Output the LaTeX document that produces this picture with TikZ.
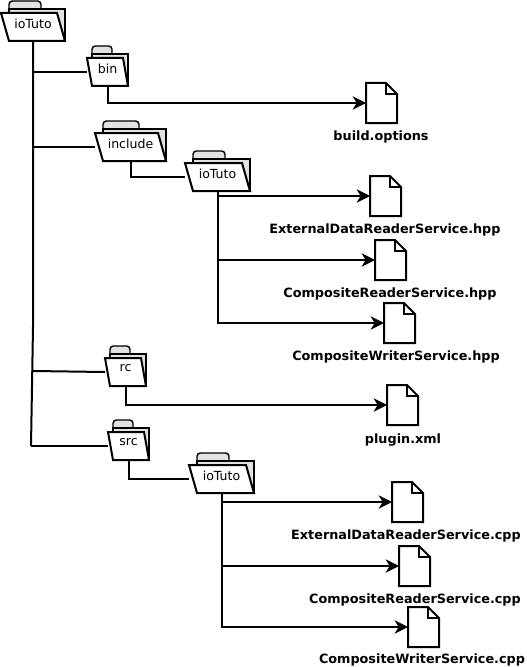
\documentclass[tikz,border=0pt]{standalone}
\usepackage{fontspec}
\setmainfont{DejaVu Sans}
\usetikzlibrary{arrows.meta}
\definecolor{foldergrey}{HTML}{E2E2E2}
\tikzset{
  wire/.style={line width=1.5pt,line join=miter},
  arrowwire/.style={wire,-{Stealth[length=10pt,width=10pt,inset=3pt]}},
  outline/.style={draw=black,line width=1.5pt,line join=miter},
  thinline/.style={draw=black,line width=1.1pt,line join=miter},
  folderanchor/.style={inner sep=0pt,outer sep=0pt,font=\fontsize{9.4pt}{10pt}\selectfont},
  fileanchor/.style={inner sep=0pt,outer sep=0pt,minimum width=23.25pt,minimum height=30pt},
  filelabel/.style={inner sep=0pt,font=\fontsize{9.6pt}{10pt}\selectfont\bfseries},
}
% name, front-left x, front-top y, width, slant, tab width, label
\newcommand{\folderbox}[7]{%
  \begin{scope}[shift={(#2,#3)}]
    \draw[thinline,fill=foldergrey,rounded corners=2.5pt] (#5,-4) -- (#5,-12) -- ({#5+#6},-12) -- ({#5+#6},-4);
    \draw[thinline,fill=foldergrey] (#5,-4) -- (#4,-4) -- (#4,28) -- (#5,28) -- cycle;
    \draw[outline,fill=white] (0,0) -- ({#4-#5},0) -- (#4,28) -- (#5,28) -- cycle;
  \end{scope}
  \node[folderanchor,minimum width={(#4)*0.75pt},minimum height=21pt] (#1) at ({#2+#4/2},{#3+14}) {\raisebox{5.5pt}{#7}};
}
% name, x, y, label, label x, label y
\newcommand{\filebox}[6]{%
  \draw[outline,fill=white] (#2,#3) -- ({#2+20},#3) -- ({#2+31},{#3+11}) -- ({#2+31},{#3+40}) -- (#2,{#3+40}) -- cycle;
  \draw[outline] ({#2+20},#3) -- ({#2+20},{#3+11}) -- ({#2+31},{#3+11});
  \node[fileanchor] (#1) at ({#2+15.5},{#3+20}) {};
  \node[filelabel] (#1-label) at (#5,#6) {#4};
}
\begin{document}
\begin{tikzpicture}[x=0.75pt,y=-0.75pt]
\useasboundingbox (0,0) rectangle (527,667);
% folders
\folderbox{root}{1}{13}{64}{8}{32}{ioTuto}
\folderbox{bin}{87}{58}{41}{5}{20}{bin}
\folderbox{include}{95}{133}{71}{8}{36}{include}
\folderbox{incsub}{185}{163}{65}{8}{32}{ioTuto}
\folderbox{rc}{105}{358}{41}{5}{20}{rc}
\folderbox{src}{108}{432}{41}{5}{20}{src}
\folderbox{srcsub}{189}{465}{65}{8}{32}{ioTuto}
% files
\filebox{options}{366}{83}{build.options}{381}{137}
\filebox{exthpp}{370}{176}{ExternalDataReaderService.hpp}{385}{230}
\filebox{readhpp}{375}{240}{CompositeReaderService.hpp}{390}{294}
\filebox{writehpp}{384}{303}{CompositeWriterService.hpp}{396}{357}
\filebox{plugin}{387}{385}{plugin.xml}{403}{440}
\filebox{extcpp}{392}{482}{ExternalDataReaderService.cpp}{406}{536}
\filebox{readcpp}{399}{546}{CompositeReaderService.cpp}{415}{600}
\filebox{writecpp}{408}{607}{CompositeWriterService.cpp}{422}{660}
% trunk
\coordinate (t1) at (33,72);
\coordinate (t2) at (33,147);
\coordinate (t3) at (33,327);
\coordinate (t4) at (33,371);
\coordinate (t5) at (31,446);
\draw[wire] (root.south) -- (t3) -- (t5);
\draw[wire] (t1) -- (bin.west);
\draw[wire] (t2) -- (include.west);
\draw[wire] (t4) -- (rc.west);
\draw[wire] (t5) -- (src.west);
% sub-branches
\draw[wire] (include.south) |- (incsub.west);
\draw[wire] (src.south) |- (srcsub.west);
\draw[arrowwire] (bin.south) |- (options.west);
\draw[arrowwire] (incsub.south) |- (exthpp.west);
\draw[arrowwire] (incsub.south) |- (readhpp.west);
\draw[arrowwire] (incsub.south) |- (writehpp.west);
\draw[arrowwire] (rc.south) |- (plugin.west);
\draw[arrowwire] (srcsub.south) |- (extcpp.west);
\draw[arrowwire] (srcsub.south) |- (readcpp.west);
\draw[arrowwire] (srcsub.south) |- (writecpp.west);
\end{tikzpicture}
\end{document}
